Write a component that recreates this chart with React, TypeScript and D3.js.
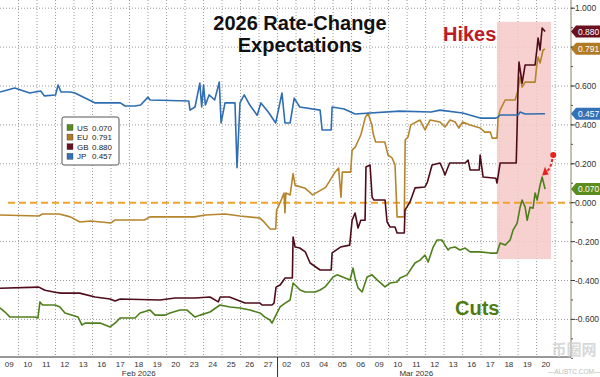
import React from "react";
import * as d3 from "d3";

// ---------- data ----------
const dayLabels = ["09","10","11","12","13","16","17","18","19","20","23","24","25","26","27","02","03","04","05","06","09","10","11","12","13","16","17","18","19","20"];
const monthLabels = [
  { label: "Feb 2026", from: 0, to: 15 },
  { label: "Mar 2026", from: 15, to: 30 },
];
const yTicks = [1.0, 0.8, 0.6, 0.4, 0.2, 0.0, -0.2, -0.4, -0.6];
const seriesNames = ["US", "EU", "GB", "JP"];
const lastValues = [0.07, 0.791, 0.88, 0.457];

// [trading-day position, value]
const usData: [number, number][] = [
  [0,-0.541],[0.27,-0.562],[0.54,-0.588],[1.9,-0.588],[2.05,-0.593],[2.16,-0.51],[2.3,-0.526],[2.97,-0.526],
  [3.24,-0.536],[3.51,-0.567],[4.22,-0.588],[4.43,-0.629],[4.6,-0.619],[5.41,-0.619],[5.95,-0.639],[6.22,-0.619],
  [6.49,-0.593],[7.3,-0.593],[7.57,-0.567],[8.11,-0.552],[8.38,-0.578],[8.92,-0.578],[9.19,-0.567],[9.73,-0.552],
  [10.11,-0.552],[10.54,-0.588],[10.81,-0.578],[11.35,-0.562],[11.89,-0.526],[12.43,-0.536],[12.97,-0.541],
  [13.51,-0.552],[14.05,-0.567],[14.32,-0.588],[14.59,-0.603],[14.7,-0.619],[14.86,-0.588],[15.14,-0.536],
  [15.41,-0.516],[15.68,-0.5],[15.84,-0.413],[16.22,-0.449],[16.49,-0.459],[17.03,-0.459],[17.3,-0.449],
  [17.57,-0.433],[18.0,-0.382],[18.22,-0.371],[18.65,-0.387],[18.92,-0.397],[19.08,-0.336],[19.19,-0.387],
  [19.35,-0.438],[19.57,-0.459],[19.84,-0.382],[20.11,-0.371],[20.38,-0.397],[20.81,-0.433],[21.08,-0.413],
  [21.46,-0.408],[21.62,-0.387],[22.0,-0.371],[22.43,-0.31],[22.7,-0.295],[22.97,-0.269],[23.14,-0.305],
  [23.41,-0.228],[23.62,-0.192],[23.89,-0.192],[24.05,-0.218],[24.22,-0.243],[24.32,-0.233],[24.59,-0.228],
  [24.86,-0.243],[25.14,-0.233],[25.41,-0.253],[25.95,-0.253],[26.49,-0.259],[26.86,-0.259],[27.03,-0.207],
  [27.3,-0.218],[27.57,-0.192],[27.73,-0.141],[27.95,-0.105],[28.11,-0.023],[28.22,0.014],[28.38,-0.023],
  [28.49,-0.09],[28.65,-0.023],[28.81,-0.028],[28.92,0.05],[29.03,0.014],[29.19,0.091],[29.3,0.132],[29.46,0.07],
];
const euData: [number, number][] = [
  [0,-0.063],[2.1,-0.068],[2.3,-0.058],[3.2,-0.058],[3.8,-0.073],[4.32,-0.099],[4.9,-0.094],[6.0,-0.104],
  [6.2,-0.089],[7.8,-0.089],[8.11,-0.073],[10.5,-0.073],[11.1,-0.063],[12.16,-0.058],[12.97,-0.068],
  [14.05,-0.079],[14.32,-0.104],[14.6,-0.135],[14.9,-0.135],[14.95,-0.038],[15.14,0.0],[15.35,0.05],
  [15.4,-0.053],[15.45,0.05],[15.68,0.04],[15.84,0.15],[15.95,0.089],[16.5,0.074],[16.9,0.04],[17.6,0.079],
  [18.11,0.157],[18.3,0.178],[18.43,0.028],[18.5,0.157],[18.95,0.157],[19.03,0.27],[19.2,0.286],[19.5,0.348],
  [19.75,0.44],[19.89,0.46],[20.1,0.4],[20.16,0.358],[20.3,0.312],[20.8,0.312],[20.97,0.245],[21.19,0.23],
  [21.35,0.194],[21.46,-0.073],[21.85,-0.073],[21.9,0.322],[22.05,0.338],[22.2,0.4],[22.7,0.425],[22.97,0.374],
  [23.24,0.425],[23.78,0.415],[24.05,0.389],[24.32,0.425],[24.6,0.415],[24.8,0.384],[25.0,0.415],[25.41,0.4],
  [25.95,0.384],[26.2,0.363],[26.5,0.363],[26.6,0.332],[26.86,0.332],[26.92,0.435],[27.03,0.476],[27.3,0.528],
  [27.84,0.528],[28.0,0.579],[28.11,0.646],[28.22,0.595],[28.38,0.62],[28.92,0.62],[29.0,0.698],[29.08,0.749],
  [29.19,0.718],[29.35,0.785],[29.46,0.791],
];
const gbData: [number, number][] = [
  [0,-0.44],[2.1,-0.434],[2.43,-0.45],[2.97,-0.46],[3.3,-0.465],[4.3,-0.465],[5.14,-0.485],[5.95,-0.495],
  [6.22,-0.505],[6.5,-0.495],[8.65,-0.5],[9.46,-0.49],[10.54,-0.49],[11.35,-0.485],[11.8,-0.51],[11.9,-0.485],
  [12.4,-0.485],[13.24,-0.516],[14.05,-0.516],[14.16,-0.526],[14.7,-0.526],[14.81,-0.516],[14.92,-0.434],
  [15.14,-0.423],[15.41,-0.387],[15.8,-0.387],[15.84,-0.176],[15.95,-0.228],[16.2,-0.233],[16.5,-0.253],
  [16.76,-0.31],[17.3,-0.346],[17.9,-0.346],[17.95,-0.258],[18.4,-0.228],[18.9,-0.218],[19.03,-0.09],
  [19.19,-0.053],[19.35,-0.13],[19.5,-0.09],[19.73,-0.09],[19.78,0.184],[20.0,0.194],[20.11,0.029],[20.2,0.014],
  [20.81,0.014],[20.92,-0.099],[21.08,-0.125],[21.35,-0.125],[21.46,-0.156],[21.85,-0.156],[21.89,-0.038],
  [22.16,0.004],[22.43,0.076],[22.97,0.081],[23.1,0.106],[23.35,0.194],[23.78,0.204],[23.95,0.168],[24.05,0.142],
  [24.3,0.204],[25.14,0.204],[25.3,0.219],[25.41,0.168],[25.9,0.168],[25.95,0.245],[26.11,0.132],[26.8,0.126],
  [26.86,0.101],[27.03,0.204],[27.9,0.204],[27.95,0.389],[28.0,0.615],[28.05,0.723],[28.22,0.615],[28.38,0.708],
  [28.92,0.708],[29.03,0.8],[29.08,0.847],[29.19,0.785],[29.3,0.898],[29.46,0.88],
];
const jpData: [number, number][] = [
  [0,0.569],[0.8,0.59],[1.6,0.564],[2.2,0.574],[2.4,0.549],[3.0,0.554],[3.14,0.605],[3.3,0.569],[3.8,0.569],
  [4.05,0.564],[4.6,0.538],[5.14,0.513],[6.5,0.513],[6.76,0.497],[7.3,0.497],[7.6,0.502],[8.0,0.543],[8.11,0.528],
  [10.2,0.523],[10.27,0.476],[10.54,0.492],[10.8,0.615],[10.9,0.492],[11.0,0.605],[11.1,0.502],[11.3,0.554],
  [11.6,0.528],[11.85,0.62],[11.95,0.41],[12.16,0.513],[12.7,0.513],[12.81,0.18],[12.97,0.513],[13.2,0.554],
  [13.5,0.502],[13.9,0.45],[14.1,0.513],[14.5,0.466],[14.9,0.41],[15.24,0.564],[15.4,0.41],[15.68,0.41],
  [15.9,0.538],[16.2,0.492],[17.3,0.476],[17.41,0.374],[17.9,0.374],[17.95,0.492],[18.6,0.482],[19.19,0.456],
  [21.6,0.471],[23.3,0.466],[23.78,0.476],[25.0,0.461],[25.95,0.435],[26.8,0.435],[26.9,0.44],[27.03,0.451],
  [28.0,0.451],[28.11,0.466],[28.38,0.456],[29.46,0.457],
];
const seriesData = [usData, euData, gbData, jpData];
const seriesColors = ["#4f7f1c", "#b5852c", "#4e0c1a", "#2f6db2"];
const badgeColors = ["#5a8c1e", "#b07a22", "#6a1020", "#3472b8"];

// ---------- layout ----------
const W = 600, H = 377;
const plotRight = 571;
const axisY = 357;
const FONT = "'Liberation Sans', Arial, sans-serif";

export default function App() {
  const x = d3.scaleLinear().domain([0, 30.86]).range([0, plotRight]);
  const y = d3.scaleLinear().domain([0, 1]).range([202.7, 8.2]);
  const line = d3.line<[number, number]>().x(d => x(d[0])).y(d => y(d[1]));

  const minorTicks = d3.range(-0.8, 1.05, 0.1).map(v => Math.round(v * 10) / 10);
  const dayBounds = d3.range(1, 31);
  // tick labels hidden behind a value badge are not drawn (as in the reference)
  const visibleTick = (v: number) => !lastValues.some(b => Math.abs(y(b) - y(v)) < 8);

  return (
    <svg width={W} height={H} style={{ position: "absolute", left: 0, top: 0, background: "#fff" }} fontFamily={FONT}>
      {/* vertical grid */}
      {dayBounds.map(i => (
        <line key={"vg" + i} x1={x(i)} x2={x(i)} y1={0} y2={axisY} stroke="#9a9a9a" strokeWidth={1} strokeDasharray="1,2" />
      ))}
      {/* horizontal grid */}
      {yTicks.filter(v => v !== 0).map(v => (
        <line key={"hg" + v} x1={0} x2={plotRight} y1={y(v)} y2={y(v)} stroke="#9a9a9a" strokeWidth={1} strokeDasharray="1,2" />
      ))}
      {/* hikes highlight */}
      <rect x={x(26.86)} y={y(0.93)} width={x(29.78) - x(26.86)} height={y(-0.29) - y(0.93)} fill="#f6c8c8" opacity={0.85} />
      {/* zero line */}
      <line x1={8} x2={plotRight} y1={y(0)} y2={y(0)} stroke="#f0a22e" strokeWidth={2} strokeDasharray="7,4" />

      {/* series */}
      {[0, 1, 2, 3].map(i => (
        <path key={"s" + i} d={line(seriesData[i]) || ""} fill="none" stroke={seriesColors[i]} strokeWidth={1.6} strokeLinejoin="round" />
      ))}

      {/* right axis */}
      <line x1={plotRight} x2={plotRight} y1={0} y2={axisY} stroke="#8d8360" strokeWidth={1} />
      {minorTicks.map(v => (
        <line key={"mt" + v} x1={plotRight} x2={plotRight + 2} y1={y(v)} y2={y(v)} stroke="#555" strokeWidth={1} />
      ))}
      {yTicks.map(v => (
        <g key={"yt" + v}>
          <line x1={plotRight} x2={plotRight + 4} y1={y(v)} y2={y(v)} stroke="#444" strokeWidth={1} />
          {visibleTick(v) && (
            <text x={plotRight + 4} y={y(v) + 3} fontSize={8.5} fill="#333">{v.toFixed(3)}</text>
          )}
        </g>
      ))}
      {/* badges */}
      {[0, 1, 2, 3].map(i => {
        const cy = y(lastValues[i]);
        return (
          <g key={"b" + i}>
            <path d={`M${plotRight},${cy} L${plotRight + 5},${cy - 6} L${W},${cy - 6} L${W},${cy + 6} L${plotRight + 5},${cy + 6} Z`} fill={badgeColors[i]} />
            <text x={plotRight + 7} y={cy + 3} fontSize={8.5} fill="#fff">{lastValues[i].toFixed(3)}</text>
          </g>
        );
      })}

      {/* x axis */}
      <line x1={0} x2={plotRight} y1={axisY} y2={axisY} stroke="#333" strokeWidth={1} />
      {dayLabels.map((d, i) => (
        <text key={"xl" + i} x={x(i + 0.5)} y={366.5} fontSize={8} fill="#333" textAnchor="middle">{d}</text>
      ))}
      <line x1={x(15)} x2={x(15)} y1={axisY} y2={H} stroke="#333" strokeWidth={1} />
      {monthLabels.map(m => (
        <text key={m.label} x={x((m.from + m.to) / 2)} y={375.5} fontSize={8} fill="#333" textAnchor="middle">{m.label}</text>
      ))}

      {/* legend */}
      <rect x={62} y={117} width={57} height={48} rx={2} fill="#fff" stroke="#555" strokeWidth={1} />
      {seriesNames.map((n, i) => (
        <g key={"lg" + n}>
          <rect x={67} y={124.5 + i * 9.6} width={6} height={6} fill={badgeColors[i]} stroke="#444" strokeWidth={0.4} />
          <text x={77} y={130.5 + i * 9.6} fontSize={8} fill="#222">{n}</text>
          <text x={92} y={130.5 + i * 9.6} fontSize={8} fill="#222">{lastValues[i].toFixed(3)}</text>
        </g>
      ))}

      {/* title */}
      <text x={300} y={30} fontSize={20} fontWeight="bold" textAnchor="middle" fill="#111">2026 Rate-Change</text>
      <text x={300} y={52} fontSize={20} fontWeight="bold" textAnchor="middle" fill="#111">Expectations</text>

      {/* annotations */}
      <text x={443} y={41} fontSize={20} fontWeight="bold" fill="#c01a28">Hikes</text>
      <text x={455} y={315} fontSize={20} fontWeight="bold" fill="#4e7c14">Cuts</text>

      {/* red arrow */}
      <circle cx={x(29.9)} cy={y(0.245)} r={3} fill="#e32420" />
      <path d={`M${x(29.85)},${y(0.225)} Q${x(29.8)},${y(0.18)} ${x(29.5)},${y(0.155)}`} fill="none" stroke="#e32420" strokeWidth={2} strokeDasharray="3,2" />
      <path d={`M${x(29.3)},${y(0.14)} L${x(29.45)},${y(0.185)} L${x(29.65)},${y(0.145)} Z`} fill="#e32420" />

      {/* watermark */}
      <text x={574} y={355} fontSize={15} fontWeight="bold" fill="#cfcfcf" textAnchor="middle" fontFamily="'Noto Sans CJK SC', sans-serif" opacity={0.8}>币圈网</text>
      <text x={574} y={374} fontSize={6.5} fill="#bdbdbd" textAnchor="middle">—ALIBTC.COM—</text>
    </svg>
  );
}
